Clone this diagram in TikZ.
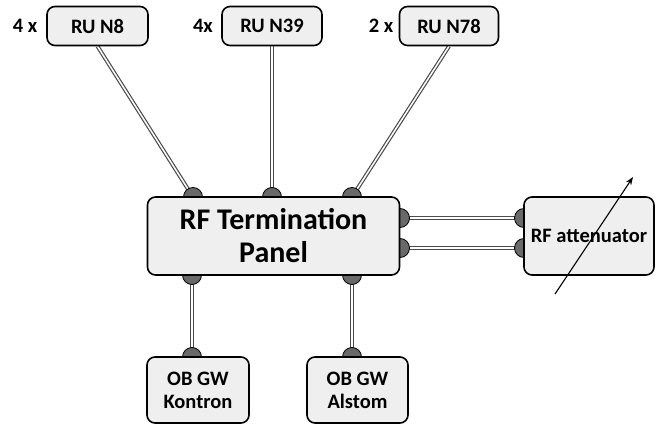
\documentclass[tikz,border=0pt]{standalone}
\usepackage{fontspec}
\setmainfont{Carlito}
\usetikzlibrary{arrows.meta}
\pgfdeclarelayer{cables}
\pgfdeclarelayer{ports}
\pgfsetlayers{cables,ports,main}
\definecolor{boxfill}{HTML}{EFEFEF}
\definecolor{portfill}{HTML}{696969}
\begin{document}
\begin{tikzpicture}[x=1pt,y=-1pt,
  box/.style={draw=black, line width=1.6pt, fill=boxfill, rounded corners=8pt,
    font=\bfseries\fontsize{20.5}{23}\selectfont, align=center, inner sep=0pt},
  bigbox/.style={box, font=\bfseries\fontsize{30}{33}\selectfont},
  cable/.style={draw=black!70, double=white, double distance=1.5pt, line width=1.2pt},
  port/.style={circle, draw=black, line width=0.8pt, fill=portfill,
    minimum size=19pt, inner sep=0pt},
  mult/.style={font=\bfseries\fontsize{20.5}{23}\selectfont, inner sep=0pt}]
  % canvas
  \useasboundingbox (0,0) rectangle (656,425);

  % equipment boxes
  \node[box, minimum width=101pt, minimum height=39pt] (n8)  at (97.5,26) {RU N8};
  \node[box, minimum width=100pt, minimum height=39pt] (n39) at (272,26)  {RU N39};
  \node[box, minimum width=99pt,  minimum height=39pt] (n78) at (449,26)  {RU N78};
  \node[mult] (m8)  at (25,26)  {4 x};
  \node[mult] (m39) at (203,26) {4x};
  \node[mult] (m78) at (381,26) {2 x};

  \node[bigbox, minimum width=252pt, minimum height=78pt] (panel) at (273.5,236)
    {RF Termination\\Panel};
  \node[box, minimum width=130pt, minimum height=78pt] (att) at (589,236) {RF attenuator};
  \node[box, minimum width=102pt, minimum height=66pt] (kon) at (198,390) {OB GW\\Kontron};
  \node[box, minimum width=101pt, minimum height=66pt] (als) at (357.5,390) {OB GW\\Alstom};

  % connector ports, half hidden behind the box outlines
  \begin{pgfonlayer}{ports}
    \node[port] (pt1) at (193,197) {};
    \node[port] (pt2) at (272,197) {};
    \node[port] (pt3) at (352,197) {};
    \node[port] (pb1) at (192,275) {};
    \node[port] (pb2) at (352,275) {};
    \node[port] (pr1) at (400,218) {};
    \node[port] (pr2) at (400,248) {};
    \node[port] (pa1) at (524,218) {};
    \node[port] (pa2) at (524,248) {};
    \node[port] (pk)  at (192,357) {};
    \node[port] (pl)  at (352,357) {};
  \end{pgfonlayer}

  % coaxial cables
  \begin{pgfonlayer}{cables}
    \draw[cable] (n8.south)  -- (pt1.center);
    \draw[cable] (n39.south) -- (pt2.center);
    \draw[cable] (n78.south) -- (pt3.center);
    \draw[cable] (pb1.center) -- (pk.center);
    \draw[cable] (pb2.center) -- (pl.center);
    \draw[cable] (pr1.center) -- (pa1.center);
    \draw[cable] (pr2.center) -- (pa2.center);
  \end{pgfonlayer}

  % variable attenuation arrow
  \coordinate (va) at (555,294);
  \coordinate (vb) at (633,177);
  \draw[line width=1.1pt, -{Stealth[length=8pt,width=6pt]}] (va) -- (vb);
\end{tikzpicture}
\end{document}
